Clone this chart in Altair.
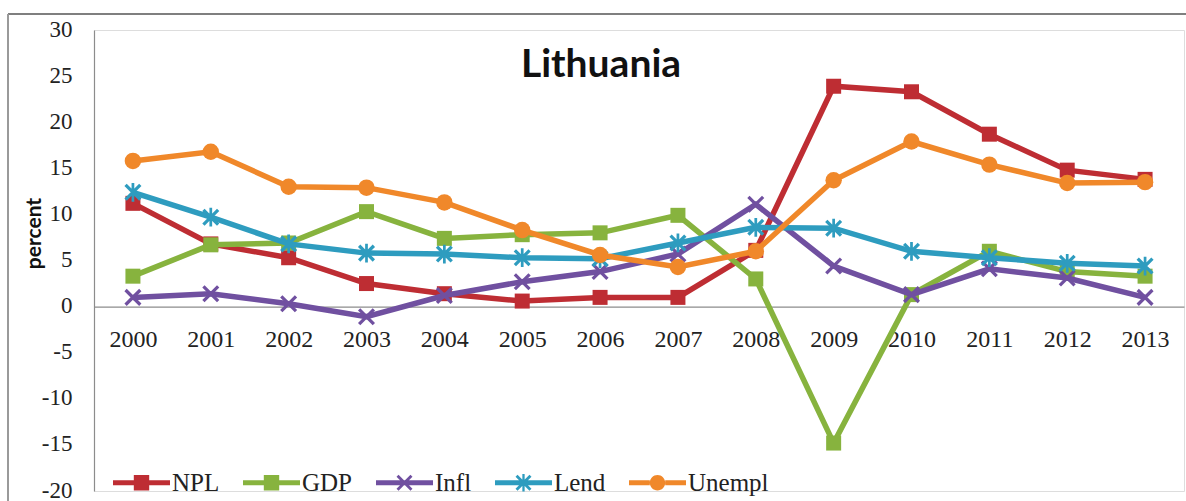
import altair as alt
import pandas as pd

years = [str(y) for y in range(2000, 2014)]
series_names = ["NPL", "GDP", "Infl", "Lend", "Unempl"]
npl = [11.2, 6.8, 5.3, 2.5, 1.4, 0.6, 1.0, 1.0, 6.1, 23.9, 23.3, 18.7, 14.8, 13.8]
gdp = [3.3, 6.7, 6.9, 10.3, 7.4, 7.8, 8.0, 9.9, 3.0, -14.8, 1.3, 6.0, 3.8, 3.3]
infl = [1.0, 1.4, 0.3, -1.1, 1.2, 2.7, 3.8, 5.7, 11.1, 4.4, 1.3, 4.1, 3.1, 1.0]
lend = [12.4, 9.7, 6.8, 5.8, 5.7, 5.3, 5.2, 6.9, 8.6, 8.5, 6.0, 5.3, 4.7, 4.4]
unempl = [15.8, 16.8, 13.0, 12.9, 11.3, 8.3, 5.6, 4.3, 6.0, 13.7, 17.9, 15.4, 13.4, 13.5]
colors = ["#BE2D33", "#87B33E", "#7050A0", "#2E9CBF", "#F0882A"]

values = {"NPL": npl, "GDP": gdp, "Infl": infl, "Lend": lend, "Unempl": unempl}
rows = []
for s in series_names:
    for y, v in zip(years, values[s]):
        rows.append({"year": y, "series": s, "value": v})
df = pd.DataFrame(rows)


# ---------- marker / legend symbol paths (style only) ----------
def rect(x0, y0, x1, y1):
    return f"M{x0},{y0}L{x1},{y0}L{x1},{y1}L{x0},{y1}Z"


def xbars(e, d):
    b1 = f"M{-e},{-e + d}L{-e + d},{-e}L{e},{e - d}L{e - d},{e}Z"
    b2 = f"M{e - d},{-e}L{e},{-e + d}L{-e + d},{e}L{-e},{e - d}Z"
    return b1 + b2


def circle(r):
    return f"M{-r},0A{r},{r} 0 1,1 {r},0A{r},{r} 0 1,1 {-r},0Z"


lw = 0.09
m = 0.27
leg_square = rect(-1, -lw, -m, lw) + rect(-m, -m, m, m) + rect(m, -lw, 1, lw)
leg_x = rect(-1, -lw, 1, lw) + xbars(0.28, 0.07)
leg_star = rect(-1, -lw, 1, lw) + xbars(0.28, 0.07) + rect(-0.04, -0.31, 0.04, 0.31)
leg_circle = rect(-1, -lw, -m, lw) + circle(m) + rect(m, -lw, 1, lw)
legend_shapes = [leg_square, leg_square, leg_x, leg_star, leg_circle]

mk_x = xbars(1, 0.27)
mk_star = xbars(1, 0.27) + rect(-0.16, -1.1, 0.16, 1.1)
marker_shapes = {"NPL": ("square", 225), "GDP": ("square", 225), "Infl": (mk_x, 290),
                 "Lend": (mk_star, 290), "Unempl": ("circle", 270)}

xenc = alt.X("year:O", scale=alt.Scale(type="point", padding=0.5),
             axis=alt.Axis(title=None, orient="bottom", offset=-184.4, labelAngle=0,
                           ticks=False, domainColor="#8c8c8c", domainWidth=1.2,
                           labelFont="Liberation Serif", labelFontSize=24,
                           labelColor="#222222", labelPadding=21))
yenc = alt.Y("value:Q", scale=alt.Scale(domain=[-20, 30], nice=False, zero=False),
             axis=alt.Axis(values=list(range(-20, 31, 5)), title="percent", grid=False,
                           labelExpr="toString(datum.value)",
                           ticks=False, domainColor="#8c8c8c", domainWidth=1.2,
                           labelFont="Liberation Serif", labelFontSize=23,
                           labelColor="#222222", labelPadding=22, labelOffset=-1,
                           titleFont="Lato", titleFontSize=21, titleFontWeight="bold",
                           titleColor="#111111", titleX=-60, titleY=203,
                           titleAngle=270, titleAlign="center", titleBaseline="middle"))

base = alt.Chart(df)
layers = []
for s, c in zip(series_names, colors):
    shp, sz = marker_shapes[s]
    sub = base.transform_filter(alt.datum.series == s)
    layers.append(sub.mark_line(strokeWidth=5.5, color=c).encode(x=xenc, y=yenc))
    layers.append(sub.mark_point(shape=shp, size=sz, filled=True, opacity=1, color=c)
                  .encode(x=xenc, y=yenc))

legend_layer = base.transform_filter("false").mark_point(filled=True, opacity=1).encode(
    x=xenc, y=yenc,
    color=alt.Color("series:N", scale=alt.Scale(domain=series_names, range=colors),
                    legend=alt.Legend(title=None, orient="none", legendX=19, legendY=424,
                                      direction="horizontal", symbolSize=3249,
                                      symbolStrokeWidth=0, labelFont="Liberation Serif",
                                      labelFontSize=25, labelColor="#222222",
                                      labelOffset=2, columnPadding=23, padding=0)),
    shape=alt.Shape("series:N", scale=alt.Scale(domain=series_names, range=legend_shapes)),
)

frame = [
    alt.Chart(df).mark_rule(color="#7f7f7f", strokeWidth=2).encode(
        x=alt.value(-86), x2=alt.value(1092), y=alt.value(-16)),
    alt.Chart(df).mark_rule(color="#9a9a9a", strokeWidth=1.5).encode(
        x=alt.value(-86), y=alt.value(-16), y2=alt.value(471)),
]

chart = alt.layer(*frame, *layers, legend_layer).properties(
    width=1090, height=461,
    title=alt.TitleParams("Lithuania", font="Lato", fontSize=39, fontWeight="bold",
                          color="#111111", anchor="middle", dx=-38, dy=103,
                          baseline="alphabetic", offset=0),
    autosize=alt.AutoSizeParams(type="none"),
    padding={"left": 94, "top": 30, "right": 2, "bottom": 10},
).configure_view(stroke=None).configure(background="white")

chart.save("out.html", embed_options={"renderer": "svg", "actions": False})
